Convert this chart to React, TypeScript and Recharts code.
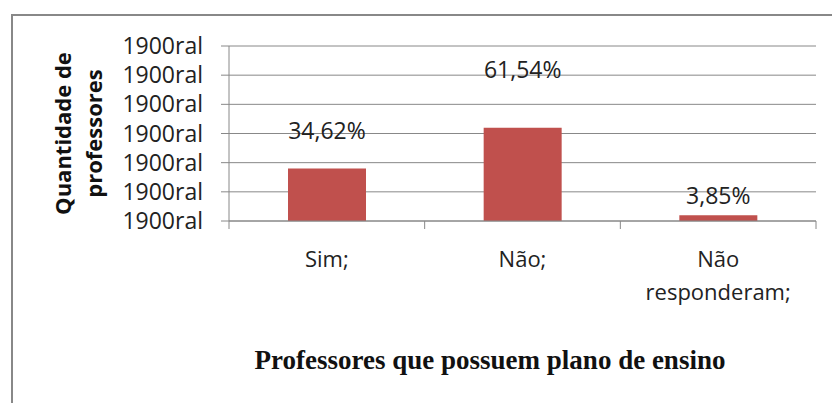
import { BarChart, Bar, XAxis, YAxis, CartesianGrid, LabelList, Label } from 'recharts'

const categories = ['Sim;', 'Não;', 'Não responderam;']
const counts = [9, 16, 1]
const percentLabels = ['34,62%', '61,54%', '3,85%']
const yTicks = [0, 5, 10, 15, 20, 25, 30]
const yTickText = '1900ral'

// distance of each data label's baseline above its bar (the original labels were dragged by hand)
const labelLift = [30, 50, 11]

const data = categories.map((name, i) => ({ name, count: counts[i], pct: percentLabels[i] }))

const FONT = '"Open Sans", "Noto Sans", sans-serif'
const GREY = '#888888'

// category name plus the small tick marks Excel puts on the band edges
function CategoryTick(props: any) {
  const { x, y, payload, width } = props
  const half = payload.offset || width / categories.length / 2
  const idx = payload.index ?? categories.indexOf(payload.value)
  const name = String(payload.value)
  const words = name === 'Não responderam;' ? ['Não', 'responderam;'] : [name]
  return (
    <g>
      <line x1={x - half} x2={x - half} y1={y} y2={y + 8} stroke={GREY} />
      {idx === categories.length - 1 && <line x1={x + half} x2={x + half} y1={y} y2={y + 8} stroke={GREY} />}
      <text x={x} y={y} textAnchor="middle" fontFamily={FONT} fontSize={22} fill="#222">
        {words.map((w, i) => (
          <tspan key={i} x={x} dy={i === 0 ? 46 : 33}>{w}</tspan>
        ))}
      </text>
    </g>
  )
}

function PctLabel(props: any) {
  const { x, y, width, index, value } = props
  return (
    <text x={x + width / 2} y={y - labelLift[index]} textAnchor="middle" fontFamily={FONT} fontSize={23} fill="#222">
      {value}
    </text>
  )
}

function AxisTitle(props: any) {
  const cy = props.viewBox.y + props.viewBox.height / 2
  return (
    <g fontFamily={FONT} fontSize={22} fontWeight="bold" fill="#111" textAnchor="middle">
      <text x={71} y={cy} transform={`rotate(-90 71 ${cy})`}>Quantidade de</text>
      <text x={102} y={cy} transform={`rotate(-90 102 ${cy})`}>professores</text>
    </g>
  )
}

export default function App() {
  return (
    <div style={{ position: 'absolute', left: 0, top: 0, width: 832, height: 403, overflow: 'hidden', background: '#fff' }}>
      <div style={{ position: 'absolute', left: 11, top: 14, width: 900, height: 500, border: `2px solid ${GREY}` }} />
      <div style={{ position: 'absolute', left: 0, top: 0 }}>
        <BarChart
          width={832}
          height={403}
          data={data}
          margin={{ top: 46, right: 16, left: 0, bottom: 82 }}
        >
          <CartesianGrid vertical={false} stroke={GREY} strokeWidth={1} />
          <XAxis
            dataKey="name"
            interval={0}
            height={100}
            tickLine={false}
            tickSize={0}
            tickMargin={0}
            axisLine={{ stroke: GREY }}
            tick={<CategoryTick />}
          />
          <YAxis
            width={229}
            domain={[0, 30]}
            ticks={yTicks}
            interval={0}
            tickFormatter={() => yTickText}
            tickSize={8}
            tickMargin={18}
            stroke={GREY}
            tick={{ fontFamily: FONT, fontSize: 23, fill: '#222' }}
          >
            <Label content={<AxisTitle />} />
          </YAxis>
          <Bar dataKey="count" fill="#C0504D" barSize={78} isAnimationActive={false}>
            <LabelList dataKey="pct" content={<PctLabel />} />
          </Bar>
        </BarChart>
      </div>
      <div
        style={{
          position: 'absolute',
          left: 0,
          width: 980,
          top: 345,
          textAlign: 'center',
          fontFamily: '"Liberation Serif", "Times New Roman", serif',
          fontWeight: 'bold',
          fontSize: 27,
          color: '#111',
          whiteSpace: 'nowrap',
        }}
      >
        Professores que possuem plano de ensino
      </div>
    </div>
  )
}
